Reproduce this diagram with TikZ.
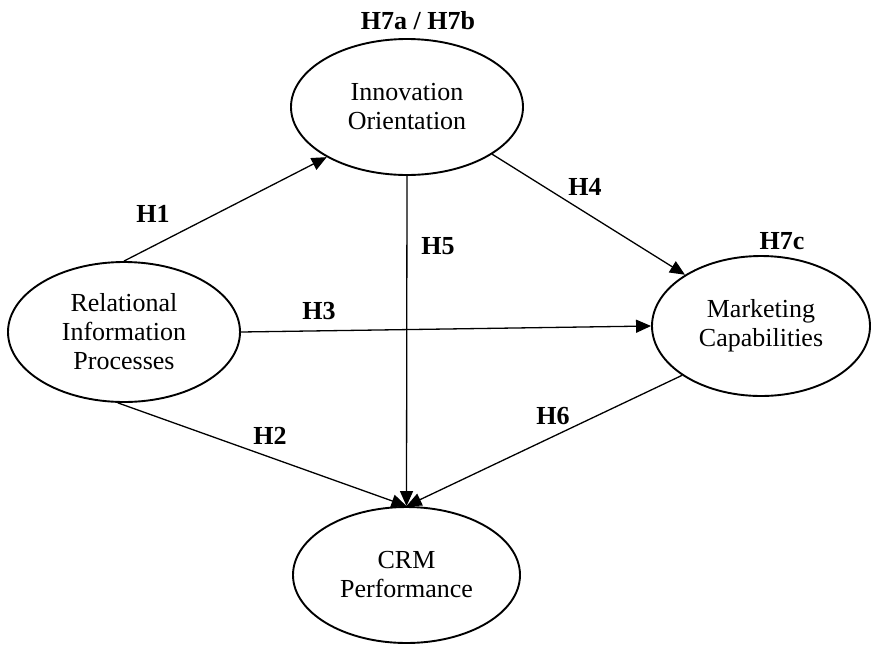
\documentclass[tikz,border=0pt]{standalone}
\usepackage{fontspec}
\setmainfont{Liberation Serif}
\usetikzlibrary{shapes.geometric,arrows.meta}
\begin{document}
\begin{tikzpicture}[x=1pt,y=-1pt,
  construct/.style={draw, ellipse, line width=1.9pt, inner sep=0pt, align=center,
    font=\fontsize{26}{29}\selectfont},
  link/.style={line width=1.3pt, -{Triangle[length=15pt,width=13pt]}},
  hyp/.style={inner sep=0pt, font=\fontsize{26}{29}\selectfont\bfseries}]
\fill[white] (0,0) rectangle (873,646);
\useasboundingbox (0,0) rectangle (873,646);
\node[construct, minimum width=232pt, minimum height=136pt] (I) at (407,107) {Innovation\\Orientation};
\node[construct, minimum width=232pt, minimum height=140pt] (R) at (124,332) {Relational\\Information\\Processes};
\node[construct, minimum width=218pt, minimum height=140pt] (M) at (761,326) {Marketing\\Capabilities};
\node[construct, minimum width=227pt, minimum height=136pt] (C) at (406.5,575) {CRM\\Performance};

\draw[link] (R.north) -- (I.212.5);
\draw[link] (I.-29.6) -- (M.146.5);
\draw[link] (I.south) -- (C.north);
\draw[link] (R.east) -- (M.west);
\draw[link] (R.265) -- (C.north);
\draw[link] (M.212.8) -- (C.north);

\node[hyp] (h7ab) at (418,21) {H7a / H7b};
\node[hyp] (h1) at (153,214) {H1};
\node[hyp] (h5) at (438,246) {H5};
\node[hyp] (h4) at (585,187) {H4};
\node[hyp] (h7c) at (782,241) {H7c};
\node[hyp] (h3) at (319,311) {H3};
\node[hyp] (h2) at (270,436) {H2};
\node[hyp] (h6) at (553,416) {H6};
\end{tikzpicture}
\end{document}
